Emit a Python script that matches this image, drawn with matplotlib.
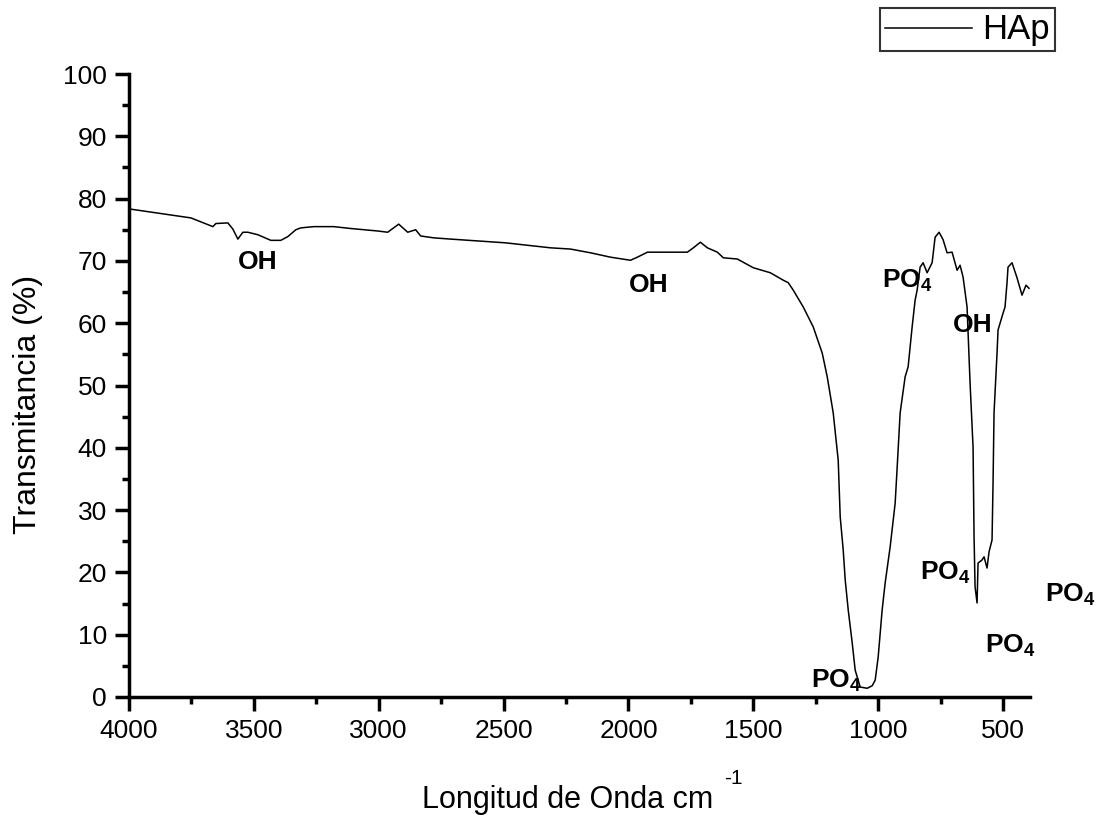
import matplotlib
matplotlib.use("Agg")
import matplotlib.pyplot as plt
from matplotlib.ticker import MultipleLocator

plt.rcParams['font.family'] = ['Liberation Sans', 'DejaVu Sans']
plt.rcParams['mathtext.fontset'] = 'custom'
plt.rcParams['mathtext.rm'] = 'Liberation Sans:bold'
plt.rcParams['mathtext.bf'] = 'Liberation Sans:bold'

# Spectrum (wavenumber cm^-1, transmittance %)
wavenumber = [4000, 3992, 3752, 3664, 3652, 3604, 3584, 3564, 3544, 3524, 3484, 3432,
              3392, 3364, 3332, 3312, 3260, 3180, 3112, 3004, 2964, 2920, 2884, 2852,
              2832, 2780, 2712, 2492, 2312, 2232, 2152, 2072, 1992, 1964, 1924, 1764,
              1740, 1712, 1684, 1644, 1620, 1564, 1500, 1432, 1380, 1360, 1340, 1300,
              1260, 1224, 1204, 1180, 1160, 1152, 1140, 1132, 1120, 1104, 1092, 1072,
              1044, 1024, 1012, 1000, 984, 972, 952, 932, 924, 912, 892, 880, 864, 852,
              844, 832, 820, 804, 784, 772, 756, 740, 724, 704, 684, 672, 660, 644, 632,
              620, 616, 612, 604, 600, 584, 576, 564, 556, 544, 540, 536, 524, 520, 500,
              492, 484, 480, 464, 444, 424, 408, 396]
transmittance = [78.5, 78.3, 76.9, 75.5, 76.0, 76.1, 75.1, 73.5, 74.6, 74.6, 74.2, 73.3,
                 73.3, 73.9, 75.0, 75.3, 75.5, 75.5, 75.2, 74.8, 74.6, 75.9, 74.6, 75.0,
                 74.0, 73.7, 73.5, 72.9, 72.1, 71.9, 71.3, 70.6, 70.1, 70.6, 71.4, 71.4,
                 72.1, 73.0, 72.1, 71.4, 70.5, 70.3, 68.9, 68.1, 66.9, 66.5, 65.3, 62.6,
                 59.4, 55.2, 51.4, 45.6, 38.0, 28.9, 23.6, 18.8, 14.0, 8.7, 4.3, 1.6,
                 1.4, 1.8, 2.7, 6.4, 14.0, 18.3, 24.1, 31.1, 36.8, 45.6, 51.4, 53.0, 59.4, 63.7,
                 65.3, 69.0, 69.7, 68.1, 69.7, 73.8, 74.6, 73.4, 71.3, 71.4, 68.5, 69.3, 67.4, 62.6, 50.4,
                 40.1, 25.7, 17.7, 15.1, 21.5, 22.0, 22.5, 20.7, 23.3, 25.2, 34.3, 45.6, 55.2, 58.9, 61.6,
                 62.6, 66.5, 69.0, 69.7, 67.3, 64.5, 66.1, 65.6]

series_label = "HAp"

# Band annotations: (label, wavenumber, transmittance)
ann_labels = ["OH", "OH", "PO$_4$", "OH", "PO$_4$", "PO$_4$", "PO$_4$", "PO$_4$"]
ann_x = [3484, 1920, 884, 620, 1168, 732, 472, 232]
ann_y = [69.8, 66.1, 66.8, 59.7, 2.6, 19.9, 8.3, 16.4]

x_ticks = [4000, 3500, 3000, 2500, 2000, 1500, 1000, 500]
y_ticks = [0, 10, 20, 30, 40, 50, 60, 70, 80, 90, 100]

fig = plt.figure(figsize=(10.99, 8.17), dpi=100)
ax = fig.add_axes([129 / 1099, 1 - 697 / 817, (1030 - 129) / 1099, (697 - 74) / 817])

line, = ax.plot(wavenumber, transmittance, color='black', lw=1.1, label=series_label)

ax.set_xlim(4000, 392)
ax.set_ylim(0, 100)
ax.set_xticks(x_ticks)
ax.set_yticks(y_ticks)
ax.xaxis.set_minor_locator(MultipleLocator(250))
ax.yaxis.set_minor_locator(MultipleLocator(5))

for s in ['top', 'right']:
    ax.spines[s].set_visible(False)
for s in ['left', 'bottom']:
    ax.spines[s].set_linewidth(2.5)

ax.tick_params(which='major', direction='out', length=10, width=2.5, labelsize=19, pad=6)
ax.tick_params(which='minor', direction='out', length=5, width=2.5)

for lab, xx, yy in zip(ann_labels, ann_x, ann_y):
    ax.text(xx, yy, lab, fontsize=19, fontweight='bold', ha='center', va='center', clip_on=False)

fig.text(28 / 1099, 1 - 404 / 817, "Transmitancia (%)", rotation=90, fontsize=23,
         ha='center', va='center')
fig.text(568 / 1099, 1 - 800 / 817, "Longitud de Onda cm", fontsize=22, ha='center', va='center')
fig.text(733 / 1099, 1 - 778 / 817, "-1", fontsize=15, ha='center', va='center')

leg = fig.legend(handles=[line], loc='upper right', bbox_to_anchor=(1055 / 1099, 1 - 8 / 817),
                 borderaxespad=0, fontsize=25, frameon=True, fancybox=False, handlelength=2.5,
                 borderpad=0.15, handletextpad=0.3, handleheight=0.6)
leg.get_frame().set_edgecolor('black')
leg.get_frame().set_linewidth(1.5)

fig.savefig("out.png", dpi=100)
